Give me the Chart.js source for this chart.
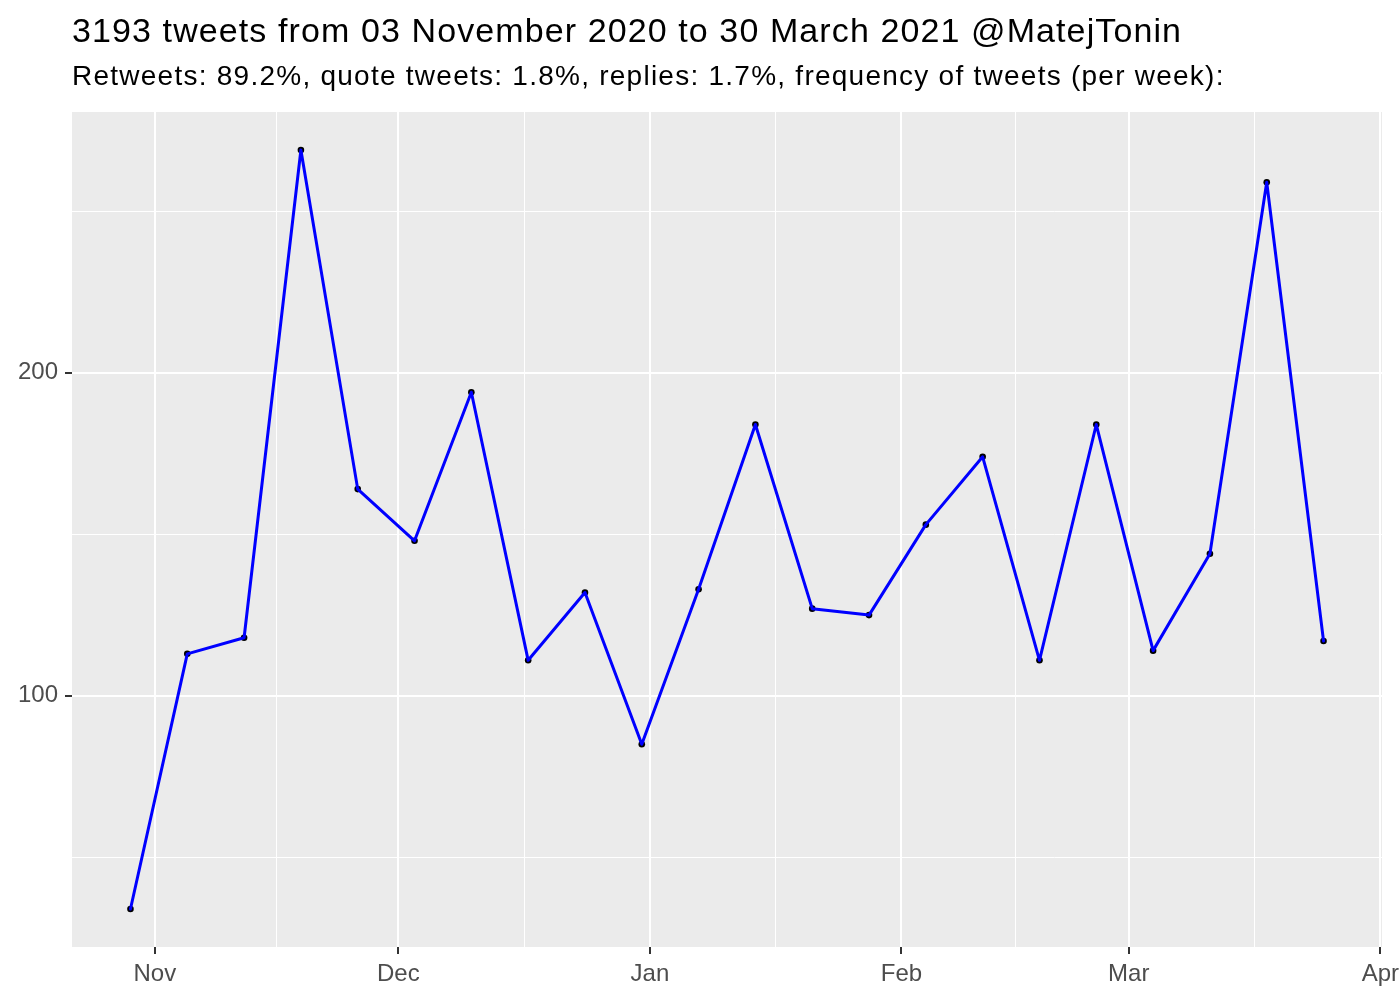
<!DOCTYPE html>
<html>
<head>
<meta charset="utf-8">
<script src="https://cdn.jsdelivr.net/npm/chart.js@4.4.1/dist/chart.umd.min.js"></script>
<style>
  body { margin: 0; background: #fff; }
  #wrap { position: relative; width: 1400px; height: 1000px; font-family: "Liberation Sans", Arial, sans-serif; }
  #title { position: absolute; left: 72px; top: 13px; font-size: 34px; letter-spacing: 1.1px; line-height: 1; color: #000; white-space: nowrap; }
  #subtitle { position: absolute; left: 72px; top: 62px; font-size: 28px; letter-spacing: 1.25px; line-height: 1; color: #000; white-space: nowrap; }
  canvas { position: absolute; left: 0; top: 0; }
</style>
</head>
<body>
<div id="wrap">
  <canvas id="tweetChart" width="1400" height="1000"></canvas>
  <div id="title">3193 tweets from 03 November 2020 to 30 March 2021 @MatejTonin</div>
  <div id="subtitle">Retweets: 89.2%, quote tweets: 1.8%, replies: 1.7%, frequency of tweets (per week):</div>
</div>
<script>
// weekly bins (start date) and tweet counts
const weeks = ['2020-10-29','2020-11-05','2020-11-12','2020-11-19','2020-11-26','2020-12-03',
  '2020-12-10','2020-12-17','2020-12-24','2020-12-31','2021-01-07','2021-01-14','2021-01-21',
  '2021-01-28','2021-02-04','2021-02-11','2021-02-18','2021-02-25','2021-03-04','2021-03-11',
  '2021-03-18','2021-03-25'];
const tweets = [34,113,118,269,164,148,194,111,132,85,133,184,127,125,153,174,111,184,114,144,259,117];

const monthBreaks = ['2020-11-01','2020-12-01','2021-01-01','2021-02-01','2021-03-01','2021-04-01'];
const monthLabels = ['Nov','Dec','Jan','Feb','Mar','Apr'];
const yMajor = [100, 200];
const yMinor = [50, 150, 250];

const origin = Date.parse('2020-11-01');
const toDay = s => (Date.parse(s) - origin) / 86400000;

const pts = weeks.map((w, i) => ({ x: toDay(w), y: tweets[i] }));
const xs = pts.map(p => p.x);
const xMinD = Math.min(...xs), xMaxD = Math.max(...xs);
const xPad = (xMaxD - xMinD) * 0.049;
const yMinD = Math.min(...tweets), yMaxD = Math.max(...tweets);
const yPad = (yMaxD - yMinD) * 0.05;

const breakDays = monthBreaks.map(toDay);
const minorDays = [];
for (let i = 0; i < breakDays.length - 1; i++) minorDays.push((breakDays[i] + breakDays[i + 1]) / 2);

const xTicks = breakDays.map((v, i) => ({ value: v, label: monthLabels[i], major: true }))
  .concat(minorDays.map(v => ({ value: v, label: '', major: false })))
  .sort((a, b) => a.value - b.value);
const yTicks = yMajor.map(v => ({ value: v, label: String(v), major: true }))
  .concat(yMinor.map(v => ({ value: v, label: '', major: false })))
  .sort((a, b) => a.value - b.value);

const isMajor = ctx => ctx.tick && ctx.tick.major;

const panelBg = {
  id: 'panelBg',
  beforeDraw(chart) {
    const a = chart.chartArea, c = chart.ctx;
    c.save();
    c.fillStyle = '#EBEBEB';
    c.fillRect(a.left, a.top, a.right - a.left, a.bottom - a.top);
    c.restore();
  }
};

const gridOpts = {
  color: '#FFFFFF',
  lineWidth: ctx => isMajor(ctx) ? 2 : 1,
  tickColor: ctx => isMajor(ctx) ? '#333333' : 'rgba(0,0,0,0)',
  tickWidth: 2,
  tickLength: 7,
  drawTicks: true
};
const tickFont = { family: '"Liberation Sans", Arial, sans-serif', size: 24 };

new Chart(document.getElementById('tweetChart').getContext('2d'), {
  type: 'line',
  data: {
    datasets: [{
      data: pts,
      borderColor: '#0000FF',
      borderWidth: 3,
      borderJoinStyle: 'round',
      borderCapStyle: 'round',
      pointRadius: 0,
      tension: 0,
      order: 0
    }, {
      data: pts,
      showLine: false,
      pointRadius: 3.3,
      pointBackgroundColor: '#000000',
      pointBorderWidth: 0,
      order: 1
    }]
  },
  plugins: [panelBg],
  options: {
    responsive: false,
    animation: false,
    devicePixelRatio: 1,
    layout: { padding: { top: 112, right: 18, bottom: 0, left: 0 } },
    plugins: { legend: { display: false }, tooltip: { enabled: false } },
    scales: {
      x: {
        type: 'linear',
        min: xMinD - xPad,
        max: xMaxD + xPad,
        border: { display: false },
        grid: gridOpts,
        afterBuildTicks: s => { s.ticks = xTicks.map(t => ({ ...t })); },
        afterFit: s => { s.height = 53; s.paddingLeft = 0; s.paddingRight = 0; },
        ticks: {
          autoSkip: false, maxRotation: 0, padding: 6,
          color: '#4D4D4D', font: tickFont,
          callback: (v, i, ticks) => ticks[i].label
        }
      },
      y: {
        type: 'linear',
        min: yMinD - yPad,
        max: yMaxD + yPad,
        border: { display: false },
        grid: gridOpts,
        afterBuildTicks: s => { s.ticks = yTicks.map(t => ({ ...t })); },
        afterFit: s => { s.width = 72; s.paddingTop = 0; s.paddingBottom = 0; },
        ticks: {
          autoSkip: false, padding: 7,
          color: '#4D4D4D', font: tickFont,
          callback: (v, i, ticks) => ticks[i].label
        }
      }
    }
  }
});
</script>
</body>
</html>
